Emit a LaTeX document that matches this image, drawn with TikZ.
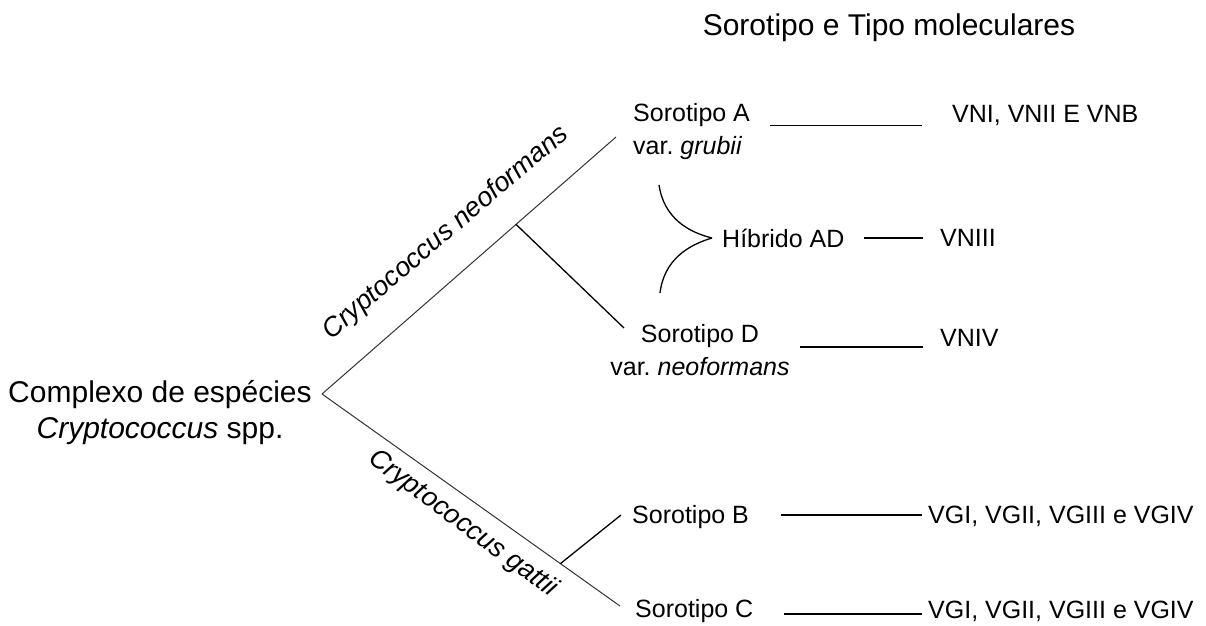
\documentclass[tikz,border=0pt]{standalone}
\usepackage{fontspec}
\setmainfont{Liberation Sans}
\usepackage{tikz}
\usetikzlibrary{positioning, calc}
\frenchspacing
\tikzset{
    base/.style={
        font=\fontsize{25}{33}\selectfont,
        inner sep=0pt
    },
    big/.style={
        font=\fontsize{30}{36}\selectfont,
        inner sep=0pt,
        align=center
    },
    sero/.style={
        base,
        align=left,
        anchor=west
    },
    mol/.style={
        base,
        anchor=west
    },
    clade/.style={
        font=\fontsize{27}{32}\selectfont\itshape,
        inner sep=0pt
    },
    branch/.style={
        draw=black!80,
        line width=1pt
    },
    twig/.style={
        draw=black,
        line width=1.3pt
    },
    link/.style={
        draw=black,
        line width=1.5pt
    }
}

\begin{document}
\begin{tikzpicture}[x=1pt, y=-1pt]
    \useasboundingbox (0,0) rectangle (1206,625);

    % Title
    \node[big] (head) at (889,28) {Sorotipo e Tipo moleculares};

    % Root
    \node[big] (root) at (160,413) {Complexo de espécies\\\textit{Cryptococcus} spp.};
    \coordinate (apex) at (322,394);

    % Serotypes
    \node[sero] (sa) at (633,132) {Sorotipo A\\var. \textit{grubii}};
    \node[base, align=center] (sd) at (700,350) {Sorotipo D\\var. \textit{neoformans}};
    \node[mol] (hyb) at (722,238) {Híbrido AD};
    \node[mol] (sb) at (632,517) {Sorotipo B};
    \node[mol] (sc) at (635,611) {Sorotipo C};

    % Molecular types
    \node[mol] (vna) at (952,115) {VNI, VNII E VNB};
    \node[mol] (vn3) at (940,238) {VNIII};
    \node[mol] (vn4) at (940,338) {VNIV};
    \node[mol] (vgb) at (928,516) {VGI, VGII, VGIII e VGIV};
    \node[mol] (vgc) at (928,611) {VGI, VGII, VGIII e VGIV};

    % Branch ends
    \coordinate (endA) at (616,137);
    \coordinate (endD) at (624,328);
    \coordinate (endB) at (621,515);
    \coordinate (endC) at (620,606);

    % C. neoformans
    \draw[branch] (apex) -- (endA) coordinate[pos=0.66] (jn);
    \draw[twig] (jn) -- (endD);
    \node[clade, rotate=40.5] (neo) at (446,233) {Cryptococcus neoformans};

    % C. gattii
    \draw[branch] (apex) -- (endC) coordinate[pos=0.8] (jg);
    \draw[twig] (jg) -- (endB);
    \node[clade, rotate=-36.5] (gat) at (463,524) {Cryptococcus gattii};

    % Hybrid AD
    \coordinate (hA) at (659,185);
    \coordinate (hTip) at (712,238);
    \coordinate (hD) at (660,293);
    \draw[twig] (hA) .. controls (664,218) and (688,232) .. (hTip);
    \draw[twig] (hTip) .. controls (688,245) and (664,260) .. (hD);

    % Links
    \draw[link] ($(sa.east |- vna.south)+(20,0)$) -- ($(vna.south west)+(-30,0)$);
    \draw[link] ($(hyb.east)+(19,0)$) -- ($(vn3.west)+(-17,0)$);
    \draw[link] ($(sd.east |- vn4.south)+(10,0)$) -- ($(vn4.south west)+(-17,0)$);
    \draw[link] ($(sb.east)+(32,-2)$) -- ($(vgb.west)+(-6,-1)$);
    \draw[link] ($(sc.east)+(30,3)$) -- ($(vgc.west)+(-6,3)$);
\end{tikzpicture}
\end{document}
